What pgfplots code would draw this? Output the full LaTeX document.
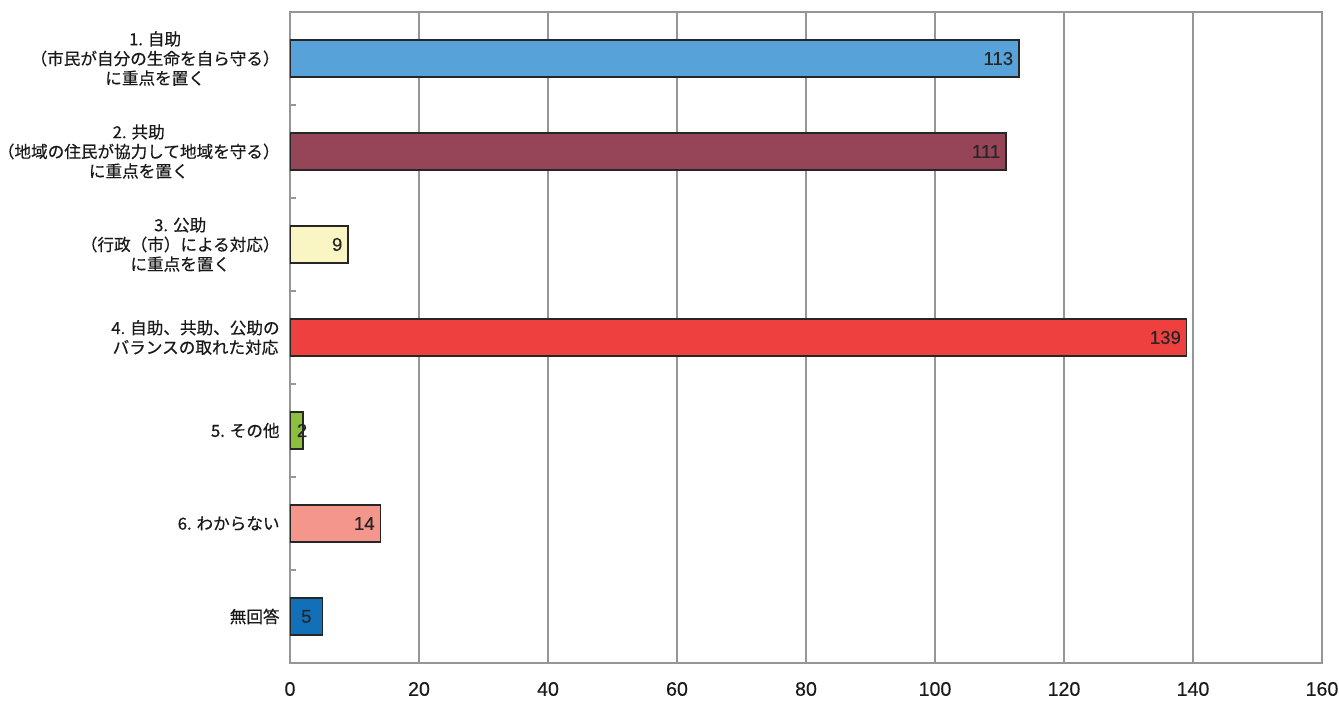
\documentclass[border=0pt]{standalone}
\usepackage{fontspec}
\usepackage{pgfplots}
\pgfplotsset{compat=1.18}
\setmainfont{Noto Sans CJK JP}
\newfontfamily\catfont{Noto Sans CJK JP}[FakeBold=0.5]
\newfontfamily\numfont{Liberation Sans}[FakeBold=0.3]

\definecolor{cJijo}{RGB}{88,162,218}
\definecolor{cKyojo}{RGB}{150,68,88}
\definecolor{cKojo}{RGB}{250,246,196}
\definecolor{cBal}{RGB}{238,64,62}
\definecolor{cOther}{RGB}{140,190,64}
\definecolor{cUnk}{RGB}{244,150,140}
\definecolor{cNoAns}{RGB}{18,112,184}
\definecolor{gridgray}{RGB}{150,150,150}

\begin{document}
\begin{tikzpicture}
\begin{axis}[
  name=ax,
  scale only axis,
  width=516pt, height=325.5pt,
  xbar, bar width=18.5pt,
  xmin=0, xmax=160,
  ymin=-0.5, ymax=6.5,
  y dir=reverse,
  xtick={0,20,...,160},
  xmajorgrids,
  major grid style={gridgray, line width=0.55pt},
  axis line style={gridgray, line width=0.8pt},
  ytick={0,...,6},
  yticklabels={
    {1. 自助\\（市民が自分の生命を自ら守る）\\に重点を置く},
    {2. 共助\\（地域の住民が協力して地域を守る）\\に重点を置く},
    {3. 公助\\（行政（市）による対応）\\に重点を置く},
    {4. 自助、共助、公助の\\バランスの取れた対応},
    {5. その他},
    {6. わからない},
    {無回答}},
  yticklabel style={align=center, font=\catfont\fontsize{8.3}{9.8}\selectfont, text=black!90, inner sep=2pt, xshift=-3pt},
  major y tick style={draw=none},
  minor ytick={0.5,1.5,...,5.5},
  minor tick length=3pt,
  minor y tick style={gridgray, line width=0.6pt},
  tick align=inside,
  xtick pos=bottom, ytick pos=left,
  major x tick style={draw=none},
  xticklabel style={font=\numfont\fontsize{9.8}{11}\selectfont, text=black!90, yshift=-6pt},
  /pgf/number format/assume math mode=true,
  bar shift=0pt,
  nodes near coords,
  nodes near coords style={anchor=east, xshift=-2.5pt, inner sep=0pt,
    font=\numfont\fontsize{9.3}{10}\selectfont, text=black!85},
  every axis plot/.append style={draw=black!85, line width=0.7pt},
]
\addplot[fill=cJijo]  coordinates {(113,0)};
\addplot[fill=cKyojo] coordinates {(111,1)};
\addplot[fill=cKojo]  coordinates {(9,2)};
\addplot[fill=cBal]   coordinates {(139,3)};
\addplot[fill=cOther, nodes near coords style={xshift=5pt}] coordinates {(2,4)};
\addplot[fill=cUnk]   coordinates {(14,5)};
\addplot[fill=cNoAns, nodes near coords style={xshift=-2.5pt}] coordinates {(5,6)};
\end{axis}
\pgfresetboundingbox
\path ([shift={(-145pt,-20.5pt)}]ax.south west) rectangle ([shift={(8.5pt,6pt)}]ax.north east);
\end{tikzpicture}
\end{document}
